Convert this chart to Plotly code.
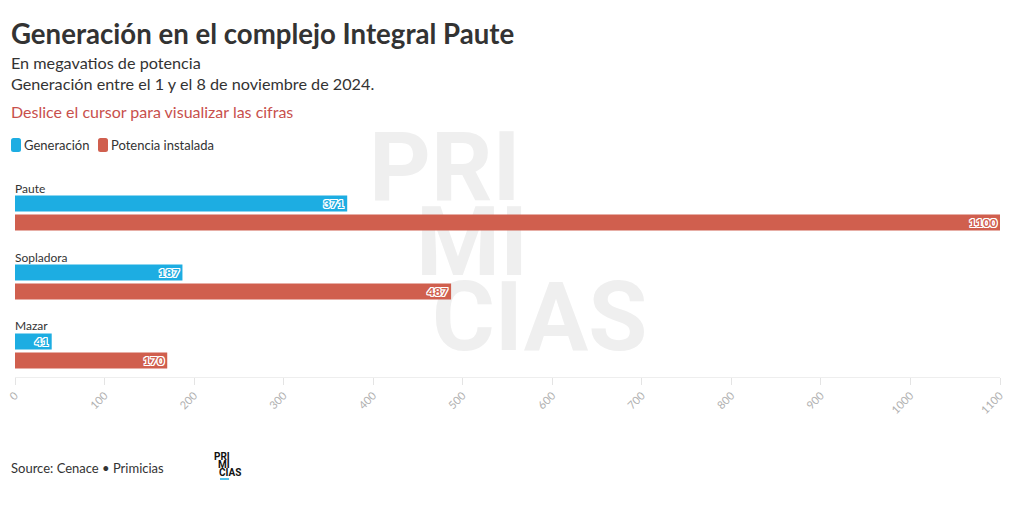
import plotly.graph_objects as go

# ---- data ----
categories = ["Paute", "Sopladora", "Mazar"]
generacion = [371, 187, 41]
potencia = [1100, 487, 170]
series_names = ["Generación", "Potencia instalada"]
tick_values = [0, 100, 200, 300, 400, 500, 600, 700, 800, 900, 1000, 1100]

BLUE = "#1dade2"
RED = "#d05f4e"
FONT = "Lato, 'Source Sans Pro', sans-serif"

W, H = 1020, 515
ML, MR, MT, MB = 15, 20, 175, 138
PW, PH = W - ML - MR, H - MT - MB


def px(x):
    return (x - ML) / PW


def py(y):
    return 1 - (y - MT) / PH


def rounded_rect(x0, y0, x1, y1, r):
    # path in paper coordinates for a rounded rectangle given pixel corners
    pts = []
    pts.append(f"M{px(x0 + r)},{py(y0)}")
    pts.append(f"L{px(x1 - r)},{py(y0)}")
    pts.append(f"Q{px(x1)},{py(y0)} {px(x1)},{py(y0 + r)}")
    pts.append(f"L{px(x1)},{py(y1 - r)}")
    pts.append(f"Q{px(x1)},{py(y1)} {px(x1 - r)},{py(y1)}")
    pts.append(f"L{px(x0 + r)},{py(y1)}")
    pts.append(f"Q{px(x0)},{py(y1)} {px(x0)},{py(y1 - r)}")
    pts.append(f"L{px(x0)},{py(y0 + r)}")
    pts.append(f"Q{px(x0)},{py(y0)} {px(x0 + r)},{py(y0)}")
    pts.append("Z")
    return " ".join(pts)


halo = "1px 1px 0 #fff, -1px -1px 0 #fff, 1px -1px 0 #fff, -1px 1px 0 #fff, 0 1px 0 #fff, 0 -1px 0 #fff, 1px 0 0 #fff, -1px 0 0 #fff"

fig = go.Figure()
for name, vals, col in [(series_names[0], generacion, BLUE), (series_names[1], potencia, RED)]:
    fig.add_trace(go.Bar(
        y=categories, x=vals, name=name, orientation="h",
        marker=dict(color=col, line=dict(width=0)),
        text=[str(v) for v in vals], textposition="inside", insidetextanchor="end", textangle=0,
        textfont=dict(family=FONT, size=12, color=col, weight="bold", shadow=halo),
        constraintext="none", cliponaxis=False,
        hoverinfo="skip", showlegend=False,
    ))

annotations = []
# category labels above each group
for c in categories:
    annotations.append(dict(x=0, y=c, xref="x", yref="y", text=c, showarrow=False,
                            xanchor="left", yanchor="middle", yshift=25, xshift=-2,
                            font=dict(family=FONT, size=12, color="#333")))

# title block
annotations += [
    dict(x=px(9), y=py(33), xref="paper", yref="paper", text="<b>Generación en el complejo Integral Paute</b>",
         showarrow=False, xanchor="left", yanchor="middle", font=dict(family=FONT, size=27.6, color="#333")),
    dict(x=px(9), y=py(63), xref="paper", yref="paper", text="En megavatios de potencia",
         showarrow=False, xanchor="left", yanchor="middle", font=dict(family=FONT, size=16.2, color="#333")),
    dict(x=px(9), y=py(83), xref="paper", yref="paper", text="Generación entre el 1 y el 8 de noviembre de 2024.",
         showarrow=False, xanchor="left", yanchor="middle", font=dict(family=FONT, size=16.2, color="#333")),
    dict(x=px(9), y=py(112), xref="paper", yref="paper", text="Deslice el cursor para visualizar las cifras",
         showarrow=False, xanchor="left", yanchor="middle", font=dict(family=FONT, size=16, color="#c8504c")),
    dict(x=px(9), y=py(468), xref="paper", yref="paper", text="Source: Cenace • Primicias",
         showarrow=False, xanchor="left", yanchor="middle", font=dict(family=FONT, size=13, color="#333")),
]

shapes = []
# custom legend (swatch + label)
for name, col, sx in [(series_names[0], BLUE, 11), (series_names[1], RED, 98)]:
    shapes.append(dict(type="path", xref="paper", yref="paper", path=rounded_rect(sx, 138, sx + 10, 152, 2.5),
                       fillcolor=col, line=dict(width=0)))
    annotations.append(dict(x=px(sx + 11), y=py(145), xref="paper", yref="paper", text=name,
                            showarrow=False, xanchor="left", yanchor="middle",
                            font=dict(family=FONT, size=13, color="#333")))

# small logo in footer
for txt, lx, ly in [("PRI", 212, 456), ("MI", 216, 464), ("CIAS", 217, 472)]:
    annotations.append(dict(x=px(lx), y=py(ly), xref="paper", yref="paper", text="<b>" + txt + "</b>",
                            showarrow=False, xanchor="left", yanchor="middle",
                            font=dict(family="Roboto", size=10, color="#111")))
shapes.append(dict(type="line", xref="paper", yref="paper", x0=px(220), x1=px(229), y0=py(479), y1=py(479),
                   line=dict(color=BLUE, width=1.5)))

# background watermark
for txt, x0, yc, w in [("PRI", 366, 160, 170), ("MI", 413, 235, 120), ("CIAS", 429, 310, 240)]:
    shapes.append(dict(type="rect", xref="paper", yref="paper", layer="below",
                       x0=px(x0), x1=px(x0 + w), y0=py(yc + 40), y1=py(yc - 40),
                       line=dict(width=0), fillcolor="rgba(0,0,0,0)",
                       label=dict(text="<b>" + txt + "</b>", textposition="middle left", padding=0,
                                  font=dict(family="Roboto", size=96, color="#efefef"))))

fig.update_layout(
    width=W, height=H,
    margin=dict(l=ML, r=MR, t=MT, b=MB, pad=0, autoexpand=False),
    paper_bgcolor="white", plot_bgcolor="rgba(0,0,0,0)",
    barmode="group", bargap=0.45, bargroupgap=0.16,
    showlegend=False,
    xaxis=dict(range=[0, 1100], tickvals=tick_values, tickangle=-45, automargin=False,
               tickfont=dict(family=FONT, size=11, color="#b0b0b0"),
               showgrid=False, zeroline=False, showline=True, linecolor="#eee", linewidth=1,
               ticks="outside", ticklen=7, tickcolor="#e4e4e4", tickwidth=1, fixedrange=True),
    yaxis=dict(categoryorder="array", categoryarray=categories, range=[2.377, -0.551], automargin=False,
               showticklabels=False, showgrid=False, zeroline=False, showline=False, fixedrange=True),
    annotations=annotations, shapes=shapes,
    font=dict(family=FONT),
)

fig.write_html("out.html")
